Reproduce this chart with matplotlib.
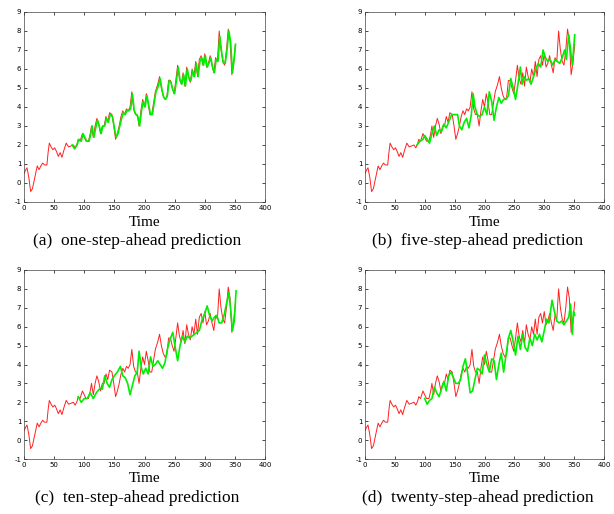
import matplotlib
matplotlib.use("Agg")
import matplotlib.pyplot as plt

plt.rcParams["axes.unicode_minus"] = False

t_actual = [0, 3, 5, 8, 11, 14, 18, 22, 25, 28, 31, 34, 38, 40, 42, 45, 48, 51, 54, 57,
            60, 63, 66, 70, 74, 78, 82, 85, 88, 90, 93, 97, 100, 103, 107, 110, 112, 115,
            118, 121, 124, 127, 130, 133, 136, 139, 142, 146, 149, 152, 155, 158, 161, 164,
            167, 170, 173, 176, 179, 182, 185, 188, 191, 194, 197, 200, 203, 206, 209, 212,
            215, 218, 222, 225, 228, 231, 234, 237, 240, 243, 246, 249, 252, 255, 258, 261,
            264, 267, 270, 273, 276, 279, 282, 285, 288, 291, 294, 297, 300, 303, 306, 309,
            312, 315, 318, 321, 324, 327, 330, 333, 336, 339, 342, 345, 348, 351]
y_actual = [0.5, 0.7, 0.8, 0.3, -0.45, -0.3, 0.3, 0.9, 0.7, 0.9, 1.05, 0.95, 0.95, 1.6, 2.1,
            1.9, 1.75, 1.85, 1.65, 1.4, 1.6, 1.35, 1.7, 2.1, 1.9, 1.95, 2.0, 1.85, 2.05, 2.3,
            2.2, 2.6, 2.4, 2.2, 2.2, 2.6, 3.0, 2.4, 3.0, 3.4, 3.1, 2.6, 3.0, 3.0, 3.5, 3.2,
            3.7, 3.6, 3.0, 2.3, 2.6, 3.0, 3.5, 3.8, 3.6, 3.9, 3.8, 4.0, 4.8, 3.9, 3.6, 3.6,
            3.0, 3.8, 4.4, 4.0, 4.7, 4.2, 3.6, 3.6, 4.2, 4.8, 5.2, 5.6, 5.0, 4.6, 4.4, 4.5,
            5.4, 5.4, 5.0, 4.7, 5.4, 6.2, 5.5, 5.2, 5.8, 5.1, 6.1, 5.6, 5.3, 6.0, 5.6, 6.4,
            5.6, 6.5, 6.7, 6.2, 6.8, 6.1, 6.3, 6.7, 6.2, 5.8, 6.6, 6.4, 8.0, 7.0, 6.4, 6.2,
            7.0, 8.1, 7.5, 5.7, 6.3, 7.3]

# (a) one-step-ahead prediction (green)
t_one = [80, 84, 88, 91, 95, 98, 101, 104, 108, 111, 113, 116, 119, 122, 125, 128, 131, 134,
         137, 140, 143, 147, 150, 153, 156, 159, 162, 165, 168, 171, 174, 177, 180, 183, 186,
         189, 192, 195, 198, 201, 204, 207, 210, 213, 216, 219, 223, 226, 229, 232, 235, 238,
         241, 244, 247, 250, 253, 256, 259, 262, 265, 268, 271, 274, 277, 280, 283, 286, 289,
         292, 295, 298, 301, 304, 307, 310, 313, 316, 319, 322, 325, 328, 331, 334, 337, 340,
         343, 346, 349, 351]
y_one = [2.0, 1.8, 2.0, 2.3, 2.2, 2.6, 2.4, 2.2, 2.2, 2.6, 3.0, 2.4, 2.9, 3.3, 3.0, 2.6, 3.0,
         3.0, 3.4, 3.2, 3.6, 3.5, 2.9, 2.4, 2.6, 3.0, 3.4, 3.7, 3.6, 3.8, 3.8, 3.9, 4.7, 3.8,
         3.6, 3.5, 3.0, 3.8, 4.3, 4.0, 4.6, 4.1, 3.6, 3.6, 4.2, 4.8, 5.1, 5.5, 4.9, 4.5, 4.4,
         4.6, 5.4, 5.3, 4.9, 4.7, 5.4, 6.1, 5.4, 5.2, 5.7, 5.1, 6.0, 5.5, 5.4, 5.9, 5.6, 6.3,
         5.6, 6.4, 6.6, 6.2, 6.7, 6.1, 6.3, 6.6, 6.1, 5.8, 6.5, 6.4, 7.7, 6.9, 6.3, 6.3, 7.0,
         8.0, 7.4, 5.8, 6.6, 7.3]

# (b) five-step-ahead prediction
t_five = [87, 92, 97, 100, 104, 108, 112, 116, 120, 124, 128, 132, 136, 140, 145, 155, 158,
          162, 166, 170, 174, 178, 181, 184, 188, 192, 196, 200, 204, 208, 212, 216, 220, 224,
          228, 232, 236, 240, 244, 248, 252, 256, 260, 263, 266, 270, 274, 278, 282, 286, 290,
          294, 298, 302, 306, 310, 314, 318, 322, 326, 330, 334, 337, 341, 344, 347, 351]
y_five = [2.0, 2.2, 2.3, 2.5, 2.3, 2.1, 2.6, 3.0, 2.5, 2.8, 2.7, 3.1, 2.9, 3.2, 3.6, 3.6, 3.0,
          2.8, 3.2, 3.4, 2.9, 3.6, 4.7, 4.0, 3.6, 3.5, 3.6, 4.0, 3.6, 4.8, 4.3, 3.3, 4.0, 4.5,
          4.2, 4.4, 4.4, 4.6, 5.5, 5.0, 4.4, 5.2, 6.1, 5.2, 5.6, 5.4, 5.5, 5.2, 5.6, 6.0, 6.3,
          6.1, 7.0, 6.6, 6.4, 6.5, 6.2, 6.5, 6.4, 6.3, 6.6, 7.0, 6.5, 7.8, 7.0, 6.2, 7.8]

# (c) ten-step-ahead prediction
t_ten = [90, 95, 100, 105, 110, 115, 120, 125, 130, 134, 138, 142, 146, 150, 155, 160, 164,
         168, 172, 176, 180, 184, 188, 191, 195, 198, 202, 206, 210, 214, 218, 222, 226, 230,
         234, 238, 242, 247, 251, 255, 259, 263, 267, 271, 275, 279, 283, 287, 291, 295, 300,
         304, 308, 312, 316, 320, 324, 328, 332, 336, 340, 343, 346, 349, 352]
y_ten = [2.3, 2.0, 2.2, 2.2, 2.5, 2.2, 2.5, 2.7, 2.7, 3.4, 3.0, 2.8, 3.2, 3.4, 3.6, 3.9, 3.4,
         3.3, 3.0, 2.4, 2.9, 3.4, 3.6, 4.7, 3.8, 3.5, 3.8, 3.5, 4.4, 3.9, 4.0, 4.2, 4.0, 3.8,
         4.1, 4.8, 5.3, 5.7, 4.9, 4.2, 5.0, 5.5, 5.2, 5.5, 5.4, 5.5, 5.6, 5.7, 5.8, 6.3, 6.7,
         7.1, 6.6, 6.3, 6.5, 6.6, 6.2, 6.2, 6.6, 7.2, 7.8, 6.9, 5.8, 6.3, 7.9]

# (d) twenty-step-ahead prediction
t_twenty = [100, 104, 108, 112, 116, 120, 124, 128, 132, 136, 140, 144, 148, 152, 156, 160,
            164, 168, 172, 176, 180, 184, 188, 192, 196, 200, 204, 208, 212, 216, 220, 224,
            228, 232, 236, 240, 244, 248, 252, 256, 260, 264, 268, 272, 276, 280, 284, 288,
            292, 296, 300, 304, 308, 313, 317, 321, 325, 329, 333, 337, 341, 344, 347, 349, 351]
y_twenty = [2.2, 1.9, 2.1, 2.2, 2.8, 2.5, 2.3, 2.7, 3.1, 2.6, 3.4, 3.6, 3.3, 3.0, 3.0, 3.2,
            3.9, 4.3, 3.5, 2.5, 2.6, 3.2, 3.8, 3.7, 3.5, 4.5, 4.0, 3.6, 4.3, 4.2, 3.2, 4.0,
            4.6, 3.6, 4.5, 5.4, 5.8, 5.2, 4.5, 5.5, 4.8, 5.6, 4.9, 4.7, 5.4, 5.0, 5.6, 5.3,
            5.6, 5.2, 5.8, 6.4, 6.2, 7.4, 6.8, 6.3, 6.2, 6.3, 6.1, 6.3, 6.5, 7.2, 5.6, 6.8, 6.6]

captions = ["(a)  one-step-ahead prediction", "(b)  five-step-ahead prediction",
            "(c)  ten-step-ahead prediction", "(d)  twenty-step-ahead prediction"]
preds = [(t_one, y_one), (t_five, y_five), (t_ten, y_ten), (t_twenty, y_twenty)]

fig = plt.figure(figsize=(6.14, 5.14), dpi=100)
W, H = 614.0, 514.0
# axes boxes in pixels: left, top, right, bottom
boxes = [(24, 12, 265, 202), (365, 12, 604, 202), (24, 270, 265, 459), (365, 270, 604, 459)]
cap_x = [137, 478, 137, 478]
cap_y = [241, 241, 498, 498]

for i, (l, tp, r, b) in enumerate(boxes):
    ax = fig.add_axes([l / W, 1 - b / H, (r - l) / W, (b - tp) / H])
    ax.plot(t_actual, y_actual, color="#ff2020", lw=0.7)
    ax.plot(preds[i][0], preds[i][1], color="#00ee00", lw=1.2)
    ax.set_xlim(0, 400)
    ax.set_ylim(-1, 9)
    ax.set_xticks(range(0, 401, 50))
    ax.set_yticks(range(-1, 10))
    ax.tick_params(direction="in", top=True, right=True, length=2.5, width=0.5,
                   labelsize=5, pad=2)
    for s in ax.spines.values():
        s.set_linewidth(0.5)
        s.set_color("#444444")
    # "Time" label and caption below each panel
    fig.text((l + r) / 2 / W, 1 - (b + 20) / H, "Time", family="Liberation Serif",
             fontsize=11, ha="center", va="center")
    fig.text(cap_x[i] / W, 1 - cap_y[i] / H, captions[i], family="Liberation Serif",
             fontsize=12.5, ha="center", va="center")

fig.savefig("out.png", dpi=100)
